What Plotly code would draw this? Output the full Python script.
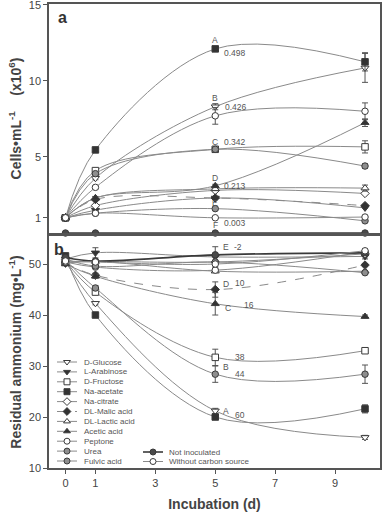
import plotly.graph_objects as go

days = [0, 1, 5, 10]
names = ["D-Glucose", "L-Arabinose", "D-Fructose", "Na-acetate", "Na-citrate",
         "DL-Malic acid", "DL-Lactic acid", "Acetic acid", "Peptone", "Urea",
         "Fulvic acid", "Not inoculated", "Without carbon source"]

# Cells (x10^6 per mL)
cells_glucose = [1.0, 3.6, 8.3, 10.85]
cells_arabinose = [1.0, 1.5, 2.3, 1.65]
cells_fructose = [1.0, 4.1, 5.5, 5.66]
cells_acetate = [1.0, 5.46, 12.1, 11.25]
cells_citrate = [1.0, 1.8, 2.8, 2.6]
cells_malic = [1.0, 2.2, 2.3, 1.8]
cells_lactic = [1.0, 2.3, 2.9, 2.95]
cells_acetic = [1.0, 2.3, 3.1, 7.25]
cells_peptone = [1.0, 3.0, 7.7, 8.0]
cells_urea = [1.0, 3.9, 5.5, 4.4]
cells_fulvic = [1.0, 1.3, 1.6, 0.8]
cells_noinoc = [0.0, 0.0, 0.0, 0.0]
cells_nocarbon = [1.0, 1.3, 1.0, 1.05]

cells_err = {
    "D-Glucose": [0, 0.1, 0.2, 0.95], "Na-acetate": [0, 0.1, 0.15, 0.6],
    "Peptone": [0, 0.1, 0.55, 0.55], "Acetic acid": [0, 0.1, 0.1, 0.25],
    "D-Fructose": [0, 0.1, 0.1, 0.4], "DL-Lactic acid": [0, 0.1, 0.1, 0.2],
    "Urea": [0, 0.1, 0.1, 0.15],
}

# Residual ammonium (mg/L)
amm_glucose = [50.5, 42.3, 21.2, 16.0]
amm_arabinose = [51.0, 52.2, 51.4, 51.5]
amm_fructose = [50.6, 44.5, 31.7, 33.0]
amm_acetate = [51.6, 40.0, 20.0, 21.6]
amm_citrate = [50.4, 50.5, 50.4, 52.0]
amm_malic = [50.2, 47.8, 45.0, 49.8]
amm_lactic = [50.2, 50.5, 48.6, 48.6]
amm_acetic = [50.0, 47.6, 42.2, 39.7]
amm_peptone = [50.4, 49.4, 48.8, 52.4]
amm_urea = [50.8, 45.3, 28.4, 28.4]
amm_fulvic = [51.0, 49.6, 50.4, 48.3]
amm_noinoc = [51.3, 50.6, 51.8, 52.2]
amm_nocarbon = [50.6, 50.4, 50.0, 52.6]

amm_err = {
    "L-Arabinose": [0, 1.0, 2.0, 0.5], "D-Fructose": [0, 0.4, 1.6, 0.4],
    "Urea": [0, 0.5, 1.6, 1.8], "Acetic acid": [0, 0.4, 2.2, 0.3],
    "DL-Malic acid": [0, 0.4, 1.5, 0.3], "Na-acetate": [0, 0.3, 0.4, 0.8],
    "Peptone": [0, 0.3, 0.3, 0.6], "D-Glucose": [0, 0.3, 0.5, 0.4],
}

cells = [cells_glucose, cells_arabinose, cells_fructose, cells_acetate, cells_citrate,
         cells_malic, cells_lactic, cells_acetic, cells_peptone, cells_urea,
         cells_fulvic, cells_noinoc, cells_nocarbon]
amm = [amm_glucose, amm_arabinose, amm_fructose, amm_acetate, amm_citrate,
       amm_malic, amm_lactic, amm_acetic, amm_peptone, amm_urea,
       amm_fulvic, amm_noinoc, amm_nocarbon]

x_ticks = [0, 1, 3, 5, 7, 9]
cells_ticks = [1, 5, 10, 15]
amm_ticks = [10, 20, 30, 40, 50]

# styles
OPEN, DARK, GREY, NOI = "white", "#333333", "#8e8e8e", "#4a4a4a"
symbols = ["triangle-down", "triangle-down", "square", "square", "diamond", "diamond",
           "triangle-up", "triangle-up", "circle", "circle", "circle", "circle", "circle"]
fills = [OPEN, DARK, OPEN, DARK, OPEN, DARK, OPEN, DARK, OPEN, GREY, GREY, NOI, OPEN]
dashes = ["solid"] * 13
dashes[5] = "dash"
linecol = ["#8a8a8a"] * 13
linecol[11] = "#3a3a3a"
linew = [1] * 13
linew[11] = 1.6

fig = go.Figure()
for i, n in enumerate(names):
    for ydata, errs, ya in ((cells[i], cells_err, "y"), (amm[i], amm_err, "y2")):
        xa = "x" if ya == "y" else "x2"
        e = errs.get(n, [0, 0, 0, 0])
        fig.add_trace(go.Scatter(
            x=days, y=ydata, xaxis=xa, yaxis=ya, mode="lines+markers",
            line=dict(color=linecol[i], width=linew[i], dash=dashes[i], shape="spline", smoothing=1.0),
            marker=dict(symbol=symbols[i], size=7 if "triangle" in symbols[i] else 6.5,
                        color=fills[i], line=dict(color="#3a3a3a", width=1)),
            error_y=dict(type="data", array=e, visible=True, color="#555555",
                         thickness=1, width=3),
            cliponaxis=False, showlegend=False, hoverinfo="skip"))

# --- manual legend on a pixel-space overlay axis ---
L, R, T, B = 49, 380, 4, 468
leg_col1 = [(57, 77, 82, 362 + 9.9 * k) for k in range(11)]
leg_col2 = [(143, 163, 167, 452 + 9.5 * k) for k in range(2)]
leg_rows = leg_col1 + leg_col2
annotations = []
for i, n in enumerate(names):
    x0, x1, xt, yy = leg_rows[i]
    fig.add_trace(go.Scatter(x=[x0, x1], y=[yy, yy], xaxis="x3", yaxis="y3", mode="lines",
                             line=dict(color=linecol[i], width=linew[i], dash=dashes[i]),
                             showlegend=False, hoverinfo="skip"))
    fig.add_trace(go.Scatter(x=[(x0 + x1) / 2], y=[yy], xaxis="x3", yaxis="y3", mode="markers",
                             marker=dict(symbol=symbols[i], size=6, color=fills[i],
                                         line=dict(color="#3a3a3a", width=1)),
                             showlegend=False, hoverinfo="skip", cliponaxis=False))
    annotations.append(dict(x=xt, y=yy, xref="x3", yref="y3", text=n, showarrow=False,
                            xanchor="left", yanchor="middle",
                            font=dict(size=8, color="#555555")))

# panel letters
annotations.append(dict(x=62, y=17, xref="x3", yref="y3", text="<b>a</b>", showarrow=False,
                        font=dict(size=16, color="#333333")))
annotations.append(dict(x=59, y=249, xref="x3", yref="y3", text="<b>b</b>", showarrow=False,
                        font=dict(size=16, color="#333333")))

lab_font = dict(size=8.5, color="#555555")
def lab(x, y, t, ya, anchor="left"):
    annotations.append(dict(x=x, y=y, xref="x" if ya == "y" else "x2", yref=ya, text=t,
                            showarrow=False, xanchor=anchor, yanchor="middle", font=lab_font))

# top panel significance labels
lab(5, cells_acetate[2] + 0.6, "A", "y", "center")
lab(5.22, cells_acetate[2] - 0.3, "0.498", "y")
lab(5, cells_glucose[2] + 0.55, "B", "y", "center")
lab(5.25, cells_glucose[2], "0.426", "y")
lab(5, cells_fructose[2] + 0.5, "C", "y", "center")
lab(5.22, cells_fructose[2] + 0.45, "0.342", "y")
lab(5, cells_acetic[2] + 0.5, "D", "y", "center")
lab(5.22, cells_acetic[2], "0.213", "y")
lab(5, cells_fulvic[2] + 0.4, "E", "y", "center")
lab(5, cells_nocarbon[2] - 0.5, "F", "y", "center")
lab(5.22, cells_nocarbon[2] - 0.35, "0.003", "y")

# bottom panel labels
lab(5.2, 53.3, "E", "y2")
lab(5.55, 53.3, "-2", "y2")
lab(5.2, amm_malic[2] + 1.1, "D", "y2")
lab(5.6, amm_malic[2] + 1.3, "10", "y2")
lab(5.25, amm_acetic[2] - 0.8, "C", "y2")
lab(5.9, amm_acetic[2] - 0.2, "16", "y2")
lab(5.6, amm_fructose[2] + 0.1, "38", "y2")
lab(5.2, amm_urea[2] + 1.4, "B", "y2")
lab(5.6, amm_urea[2], "44", "y2")
lab(5.2, amm_glucose[2], "A", "y2")
lab(5.6, amm_acetate[2] + 0.4, "60", "y2")

axis_common = dict(showgrid=False, zeroline=False, showline=True, linecolor="#555555",
                   linewidth=1.5, mirror=True, automargin=False, ticklabeloverflow="allow",
                   tickfont=dict(size=11, color="#444444", family="Liberation Sans, Arial"))
H = 512 - 4 - 44
fig.update_layout(
    width=382, height=512, margin=dict(l=49, r=2, t=4, b=44, autoexpand=False),
    paper_bgcolor="white", plot_bgcolor="rgba(0,0,0,0)",
    font=dict(family="Liberation Sans, Arial", color="#444444"),
    xaxis=dict(**axis_common, range=[-0.55, 10.5], tickvals=x_ticks, showticklabels=False,
               ticks="", anchor="y", domain=[0, 1]),
    yaxis=dict(**axis_common, range=[0, 15.05], tickvals=cells_ticks, ticks="outside", ticklen=4,
               tickcolor="#555555", domain=[(468 - 233) / H, 1], anchor="x",
               title=dict(text="<b>Cells\u2022mL<sup>-1</sup>    (x10<sup>6</sup>)</b>",
                          font=dict(size=14, color="#444444"), standoff=4)),
    xaxis2=dict(**axis_common, range=[-0.55, 10.5], tickvals=x_ticks, ticks="outside", ticklen=4,
                tickcolor="#555555", anchor="y2", domain=[0, 1], matches="x",
                title=dict(text="<b>Incubation (d)</b>", font=dict(size=14, color="#444444"),
                           standoff=14)),
    yaxis2=dict(**axis_common, range=[10, 55.5], tickvals=amm_ticks, ticks="outside", ticklen=4,
                tickcolor="#555555", domain=[0, (468 - 236) / H], anchor="x2",
                title=dict(text="<b>Residual ammonium (mg\u2022L<sup>-1</sup>)</b>",
                           font=dict(size=14, color="#444444"), standoff=4)),
    xaxis3=dict(range=[L, R], domain=[0, 1], anchor="y3", visible=False, fixedrange=True),
    yaxis3=dict(range=[B, T], domain=[0, 1], anchor="x3", visible=False, fixedrange=True),
    annotations=annotations,
)
fig.write_html("out.html", config={"displayModeBar": False},
               post_script="document.body.style.margin='0';")
